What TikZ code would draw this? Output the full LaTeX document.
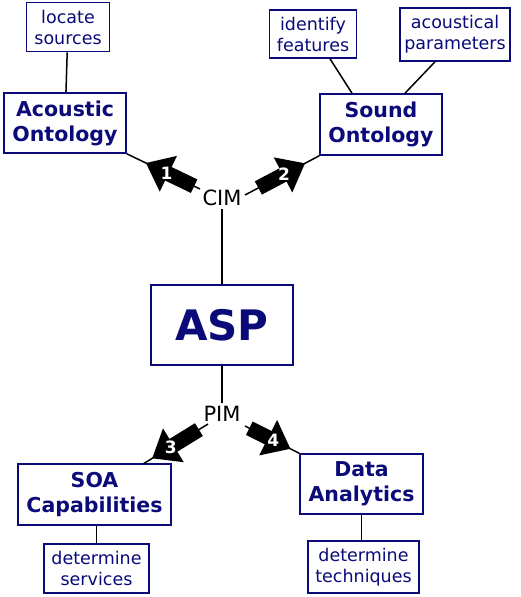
\documentclass[tikz,border=0pt]{standalone}
\usepackage{fontspec}
\setmainfont{DejaVu Sans}
\usetikzlibrary{arrows.meta,calc}
\definecolor{navyblue}{RGB}{10,10,120}
\tikzset{
  smallbox/.style={draw=navyblue,line width=1.6pt,text=navyblue,align=center,inner sep=0pt,font=\fontsize{17.5}{21}\selectfont},
  bigbox/.style={smallbox,font=\bfseries\fontsize{20.5}{25}\selectfont},
  fat/.style={line width=15pt,-{Triangle[width=38pt,length=25pt]}},
  num/.style={text=white,font=\bfseries\fontsize{17}{17}\selectfont},
  link/.style={line width=1.5pt}
}
\begin{document}
\begin{tikzpicture}[x=1pt,y=-1pt]
\useasboundingbox (0,0) rectangle (520,597);
\node[smallbox,minimum width=83pt,minimum height=49pt] (locate) at (68,27) {locate\\sources};
\node[bigbox,minimum width=122pt,minimum height=60pt] (acoustic) at (65,123) {Acoustic\\Ontology};
\node[smallbox,minimum width=87pt,minimum height=48pt] (ident) at (313,34) {identify\\features};
\node[smallbox,minimum width=110pt,minimum height=53pt] (param) at (455,34.5) {acoustical\\parameters};
\node[bigbox,minimum width=122pt,minimum height=61pt] (sound) at (381,124.5) {Sound\\Ontology};
\node[smallbox,minimum width=142pt,minimum height=80pt,font=\bfseries\fontsize{42}{42}\selectfont] (asp) at (222,325) {ASP};
\node[bigbox,minimum width=153pt,minimum height=61pt] (soa) at (94.5,494.5) {SOA\\Capabilities};
\node[bigbox,minimum width=123pt,minimum height=60pt] (data) at (361.5,484) {Data\\Analytics};
\node[smallbox,minimum width=105pt,minimum height=49pt] (serv) at (96.5,568.5) {determine\\services};
\node[smallbox,minimum width=111pt,minimum height=52pt] (tech) at (363.5,567) {determine\\techniques};
\node[font=\fontsize{21}{24}\selectfont] (cim) at (222,198) {CIM};
\node[font=\fontsize{21}{24}\selectfont] (pim) at (222,414) {PIM};

\coordinate (cimw) at (200,189);
\coordinate (cime) at (245,195);
\coordinate (pimw) at (208,424);
\coordinate (pime) at (245,426);
\coordinate (soatop) at (143,464);

\draw[link] (locate) -- (acoustic);
\draw[link] ([xshift=17pt]ident.south) -- ([xshift=-29pt]sound.north);
\draw[link] ([xshift=-20pt]param.south) -- ([xshift=24pt]sound.north);
\draw[link] (cim) -- (asp);
\draw[link] (asp) -- (pim);
\draw[link] ([xshift=2pt]soa.south) -- ([xshift=2pt]soa.south |- serv.north);
\draw[link] (data.south) -- (data.south |- tech.north);

\draw[link] (cimw) -- (acoustic.south east);
\draw[link] (cime) -- (sound.south west);
\draw[link] (pimw) -- (soatop);
\draw[link] (pime) -- (data.north west);

\draw[fat] ($(cimw)!0.08!(acoustic.south east)$) -- ($(cimw)!0.74!(acoustic.south east)$) node[num,pos=0.57] {1};
\draw[fat] ($(cime)!0.18!(sound.south west)$) -- ($(cime)!0.81!(sound.south west)$) node[num,pos=0.55] {2};
\draw[fat] ($(pimw)!0.14!(soatop)$) -- ($(pimw)!0.86!(soatop)$) node[num,pos=0.6] {3};
\draw[fat] ($(pime)!0.08!(data.north west)$) -- ($(pime)!0.84!(data.north west)$) node[num,pos=0.58] {4};
\end{tikzpicture}
\end{document}
